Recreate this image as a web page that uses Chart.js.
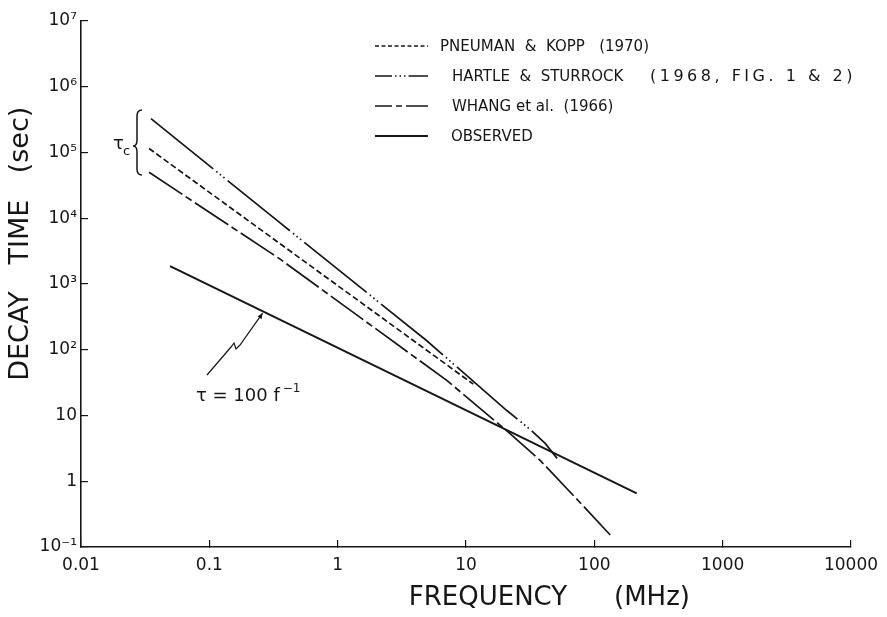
<!DOCTYPE html>
<html>
<head>
<meta charset="utf-8">
<script src="https://cdn.jsdelivr.net/npm/chart.js@4.4.1/dist/chart.umd.min.js"></script>
<style>
    html, body { margin: 0; padding: 0; background: #fff; }
    #wrap { width: 887px; height: 617px; position: relative; }
</style>
</head>
<body>
<div id="wrap"><canvas id="decayChart"></canvas></div>
<script>
// Decay time vs frequency, log-log

const freqTicks = [0.01, 0.1, 1, 10, 100, 1000, 10000];
const freqTickLabels = ['0.01', '0.1', '1', '10', '100', '1000', '10000'];
const tauTicks = [0.1, 1, 10, 100, 1e3, 1e4, 1e5, 1e6, 1e7];
const tauTickLabels = ['10\u207B\u00B9', '1', '10', '10\u00B2', '10\u00B3', '10\u2074', '10\u2075', '10\u2076', '10\u2077'];

const seriesNames = [
    'PNEUMAN  &  KOPP   (1970)',
    'HARTLE  &  STURROCK',
    'WHANG et al.  (1966)',
    'OBSERVED'
];
const hartleNameTail = '(1968, FIG. 1 & 2)';

// Pneuman & Kopp (1970)
const pneumanFreq = [0.0339, 11.4];
const pneumanTau = [1.15e5, 30];

// Hartle & Sturrock (1968)
const hartleFreq = [0.0351, 0.356, 4.95, 20.8, 31.6, 41.4, 51.3];
const hartleTau = [3.27e5, 8490, 137, 11.9, 6.14, 3.77, 2.23];

// Whang et al (1966)
const whangFreq = [0.0339, 0.356, 7.12, 20.2, 37.8, 87.9, 133];
const whangTau = [5.0e4, 2390, 33.9, 6.14, 2.08, 0.364, 0.152];

// observed, tau = 100 / f
const observedFreq = [0.0494, 214];
const observedTau = [1875, 0.652];

const ink = '#161616';
const fontFamily = "'DejaVu Sans', 'Liberation Sans', sans-serif";

const lineDashes = [[6, 3], [80, 4, 1.5, 3, 1.5, 3, 1.5, 4], [40, 4, 7, 4], []];
const legendDashes = [[4, 2.5], [17, 3, 1.5, 3, 1.5, 3, 1.5, 3, 40], [17, 4, 6, 4, 40], []];

function toPoints(xs, ys) {
    return xs.map((x, i) => ({ x, y: ys[i] }));
}

function makeDataset(i, xs, ys) {
    return {
        label: seriesNames[i],
        data: toPoints(xs, ys),
        showLine: true,
        borderColor: ink,
        borderWidth: i === 3 ? 2 : 1.7,
        borderDash: lineDashes[i],
        pointRadius: 0,
        tension: 0,
        fill: false
    };
}

const decorations = {
    id: 'decorations',
    afterDraw(chart) {
        const ctx = chart.ctx;
        const xs = chart.scales.x;
        const ys = chart.scales.y;
        ctx.save();
        ctx.fillStyle = ink;
        ctx.strokeStyle = ink;
        ctx.textBaseline = 'middle';

        // axis titles
        ctx.font = `26px ${fontFamily}`;
        ctx.textAlign = 'center';
        ctx.fillText('FREQUENCY', 488, 598);
        ctx.fillText('(MHz)', 652, 598);
        ctx.save();
        ctx.translate(21, 0);
        ctx.rotate(-Math.PI / 2);
        ctx.font = `27px ${fontFamily}`;
        ctx.fillText('DECAY', -336, 0);
        ctx.fillText('TIME', -232, 0);
        ctx.fillText('(sec)', -140, 0);
        ctx.restore();

        // legend
        ctx.font = `15px ${fontFamily}`;
        ctx.textAlign = 'left';
        const rowY = [46, 76, 106, 136];
        const textX = [440, 452, 452, 451];
        seriesNames.forEach((name, i) => {
            ctx.beginPath();
            ctx.lineWidth = i === 3 ? 1.8 : 1.5;
            ctx.setLineDash(legendDashes[i]);
            ctx.moveTo(375, rowY[i]);
            ctx.lineTo(428, rowY[i]);
            ctx.stroke();
            ctx.setLineDash([]);
            ctx.fillText(name, textX[i], rowY[i] + 1);
        });
        ctx.font = `16px ${fontFamily}`;
        ctx.letterSpacing = '3.5px';
        ctx.fillText(hartleNameTail, 650, rowY[1] + 1);
        ctx.letterSpacing = '0px';

        // tau_c brace
        ctx.lineWidth = 1.5;
        ctx.beginPath();
        ctx.moveTo(142, 110);
        ctx.quadraticCurveTo(137, 110, 137, 116);
        ctx.lineTo(137, 140);
        ctx.quadraticCurveTo(137, 146, 133, 146);
        ctx.quadraticCurveTo(137, 146, 137, 152);
        ctx.lineTo(137, 169);
        ctx.quadraticCurveTo(137, 175, 142, 175);
        ctx.stroke();
        ctx.textBaseline = 'alphabetic';
        ctx.font = `18px ${fontFamily}`;
        ctx.fillText('\u03C4', 113, 149);
        ctx.font = `13px ${fontFamily}`;
        ctx.fillText('c', 123, 155);

        // tau = 100 f^-1 label with pointer to the observed line
        const tipF = 0.26;
        const t = (Math.log10(tipF) - Math.log10(observedFreq[0])) /
            (Math.log10(observedFreq[1]) - Math.log10(observedFreq[0]));
        const tipTau = Math.pow(10, Math.log10(observedTau[0]) +
            t * (Math.log10(observedTau[1]) - Math.log10(observedTau[0])));
        const tipX = xs.getPixelForValue(tipF);
        const tipY = ys.getPixelForValue(tipTau) + 2;
        ctx.lineWidth = 1.2;
        ctx.beginPath();
        ctx.moveTo(207, 375);
        ctx.lineTo(231, 347);
        ctx.lineTo(234, 343);
        ctx.lineTo(236, 349);
        ctx.lineTo(240, 345);
        ctx.lineTo(tipX, tipY);
        ctx.stroke();
        ctx.beginPath();
        ctx.moveTo(tipX, tipY);
        ctx.lineTo(tipX - 5, tipY + 3);
        ctx.lineTo(tipX - 1, tipY + 6);
        ctx.closePath();
        ctx.fill();

        ctx.font = `18px ${fontFamily}`;
        const main = '\u03C4 = 100 f';
        ctx.fillText(main, 196, 401);
        const w = ctx.measureText(main).width;
        ctx.font = `12px ${fontFamily}`;
        ctx.fillText('\u22121', 196 + w + 3, 392);

        ctx.restore();
    }
};

const ctx = document.getElementById('decayChart');

new Chart(ctx, {
    type: 'scatter',
    data: {
        datasets: [
            makeDataset(0, pneumanFreq, pneumanTau),
            makeDataset(1, hartleFreq, hartleTau),
            makeDataset(2, whangFreq, whangTau),
            makeDataset(3, observedFreq, observedTau)
        ]
    },
    options: {
        responsive: true,
        maintainAspectRatio: false,
        animation: false,
        layout: { padding: { top: 21, right: 36, left: 0, bottom: 0 } },
        plugins: {
            legend: { display: false },
            tooltip: { enabled: false }
        },
        scales: {
            x: {
                type: 'logarithmic',
                position: 'bottom',
                min: 0.01,
                max: 10000,
                afterBuildTicks: (s) => { s.ticks = freqTicks.map(v => ({ value: v })); },
                afterFit: (s) => {
                    s.height = 70;
                    s.paddingLeft = 0;
                    s.paddingRight = 0;
                },
                grid: { drawOnChartArea: false, tickLength: -7, color: ink, lineWidth: 1.2 },
                border: { color: ink, width: 1.6 },
                ticks: {
                    padding: 15,
                    color: ink,
                    autoSkip: false,
                    maxRotation: 0,
                    font: { family: fontFamily, size: 17 },
                    callback: (v) => freqTickLabels[freqTicks.indexOf(v)]
                }
            },
            y: {
                type: 'logarithmic',
                position: 'left',
                min: 0.1,
                max: 1e7,
                afterBuildTicks: (s) => { s.ticks = tauTicks.map(v => ({ value: v })); },
                afterFit: (s) => {
                    s.width = 81;
                    s.paddingTop = 0;
                    s.paddingBottom = 0;
                },
                grid: { drawOnChartArea: false, tickLength: -7, color: ink, lineWidth: 1.2 },
                border: { color: ink, width: 1.6 },
                ticks: {
                    padding: 11,
                    color: ink,
                    autoSkip: false,
                    font: { family: fontFamily, size: 17 },
                    callback: (v) => tauTickLabels[tauTicks.indexOf(v)]
                }
            }
        }
    },
    plugins: [decorations]
});
</script>
</body>
</html>
